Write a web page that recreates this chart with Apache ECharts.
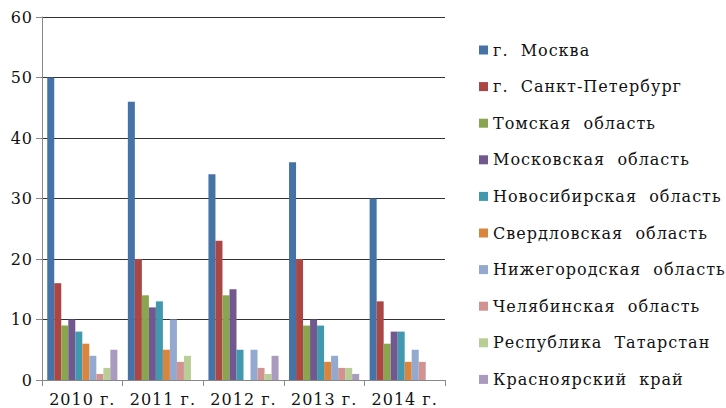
<!DOCTYPE html>
<html>
<head>
<meta charset="utf-8">
<script src="https://cdn.jsdelivr.net/npm/echarts@6/dist/echarts.min.js"></script>
<style>
    html, body { margin: 0; padding: 0; background: #fff; }
    #chart { width: 726px; height: 408px; }
    #chart text { letter-spacing: 1px; }
</style>
</head>
<body>
<div id="chart"></div>
<script>
// годы по оси X
const years = ['2010 г.', '2011 г.', '2012 г.', '2013 г.', '2014 г.'];

// регионы и значения по годам
const regions = [
    'г.  Москва',
    'г.  Санкт-Петербург',
    'Томская  область',
    'Московская  область',
    'Новосибирская  область',
    'Свердловская  область',
    'Нижегородская  область',
    'Челябинская  область',
    'Республика  Татарстан',
    'Красноярский  край'
];
const moscow = [50, 46, 34, 36, 30];
const spb = [16, 20, 23, 20, 13];
const tomsk = [9, 14, 14, 9, 6];
const moscowObl = [10, 12, 15, 10, 8];
const novosib = [8, 13, 5, 9, 8];
const sverdl = [6, 5, 0, 3, 3];
const nizhny = [4, 10, 5, 4, 5];
const chelyab = [1, 3, 2, 2, 3];
const tatarstan = [2, 4, 1, 2, 0];
const krasnoyarsk = [5, 0, 4, 1, 0];

const colors = ['#4572A7', '#AA4643', '#89A54E', '#71588F', '#4198AF',
    '#DB843D', '#93A9CF', '#D19392', '#B9CD96', '#A99BBD'];

const seriesData = [moscow, spb, tomsk, moscowObl, novosib, sverdl, nizhny, chelyab, tatarstan, krasnoyarsk];
const font = 'DejaVu Serif';

const chart = echarts.init(document.getElementById('chart'), null, { renderer: 'svg' });
chart.setOption({
    animation: false,
    color: colors,
    textStyle: { fontFamily: font, color: '#111' },
    grid: { left: 42, right: 281, top: 17, bottom: 28, containLabel: false },
    legend: {
        orient: 'vertical',
        left: 474,
        top: 37,
        icon: 'rect',
        itemWidth: 9,
        itemHeight: 9,
        itemGap: 20.6,
        textStyle: { fontFamily: font, fontSize: 16, color: '#111', lineHeight: 16 },
        data: regions
    },
    xAxis: {
        type: 'category',
        data: years,
        axisLine: { lineStyle: { color: '#888', width: 1 } },
        axisTick: { show: true, length: 6, lineStyle: { color: '#888' } },
        axisLabel: { fontFamily: font, fontSize: 16, color: '#111', margin: 11, interval: 0, hideOverlap: false }
    },
    yAxis: {
        type: 'value',
        min: 0,
        max: 60,
        interval: 10,
        axisLine: { show: true, lineStyle: { color: '#888' } },
        axisTick: { show: true, length: 6, lineStyle: { color: '#888' } },
        axisLabel: { fontFamily: font, fontSize: 16, color: '#111', margin: 9 },
        splitLine: { lineStyle: { color: '#333', width: 1 } }
    },
    series: seriesData.map((d, i) => ({
        name: regions[i],
        type: 'bar',
        data: d,
        barGap: '0%',
        barCategoryGap: '13%'
    }))
});
</script>
</body>
</html>
